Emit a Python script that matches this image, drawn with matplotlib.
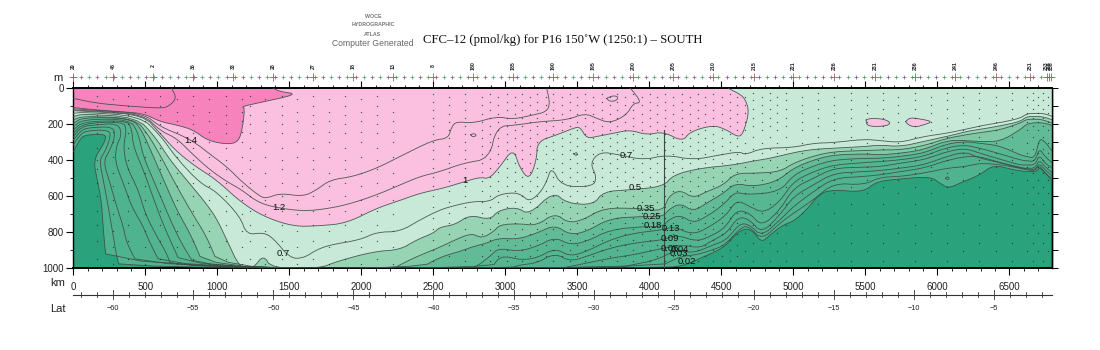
import matplotlib
matplotlib.use("Agg")
import matplotlib.pyplot as plt
from matplotlib.transforms import blended_transform_factory

W, H = 1100, 350
SANS = "Liberation Sans"
SERIF = "Liberation Serif"

# shared distances (km) for the eastern end of every deep contour
east_km = [5000, 5139, 5278, 5486, 5602, 5741, 5902, 6065, 6192, 6296, 6435, 6574, 6620, 6678, 6708, 6747, 6800]

c002_km = [0, 46, 81, 232, 215, 139, 167, 197, 208, 234,
           4108, 4259, 4352, 4514, 4595, 4664, 4722, 4780, 4838, 4930, 5000, 5092, 5185, 5278, 5486, 5578, 5717,
           5949, 6018, 6076, 6157, 6296, 6389, 6528, 6620, 6690, 6713, 6800]
c002_m = [352, 283, 259, 253, 305, 398, 509, 638, 786, 1000,
          1000, 980, 944, 888, 814, 777, 795, 857, 814, 758, 740, 675, 583, 564, 577, 518, 505,
          490, 527, 555, 527, 481, 425, 453, 463, 463, 435, 518]

c003_km = [0, 46, 93, 255, 255, 220, 181, 208, 243, 273, 301, 324,
           4051, 4213, 4328, 4444, 4525, 4641, 4699, 4780, 4907] + east_km
c003_m = [315, 259, 235, 231, 278, 352, 398, 509, 657, 805, 934, 1000,
          1000, 934, 925, 897, 870, 768, 771, 842, 749,
          694, 620, 527, 537, 494, 490, 472, 444, 435, 416, 424, 444, 453, 459, 426, 472, 503]

c004_km = [0, 58, 116, 278, 289, 255, 208, 255, 301, 347, 370, 463,
           3750, 3889, 4051, 4189, 4305, 4444, 4537, 4629, 4699, 4780, 4907] + east_km
c004_m = [287, 231, 218, 213, 268, 342, 407, 527, 657, 768, 860, 1000,
          1000, 980, 953, 897, 916, 870, 842, 749, 759, 823, 731,
          657, 574, 500, 490, 481, 463, 444, 401, 379, 379, 413, 438, 448, 453, 416, 453, 490]

c006_km = [0, 58, 139, 313, 336, 301, 289, 347, 405, 486, 532, 623,
           3379, 3449, 3564, 3726, 3889, 4097, 4236, 4352, 4444, 4537, 4618, 4699, 4780, 4907] + east_km
c006_m = [268, 213, 204, 194, 259, 315, 407, 527, 657, 768, 860, 1000,
          1000, 990, 971, 944, 925, 888, 870, 888, 842, 805, 712, 731, 805, 703,
          601, 537, 472, 463, 457, 444, 426, 379, 352, 389, 413, 444, 444, 444, 398, 435, 472]

c009_km = [0, 69, 347, 370, 347, 370, 451, 498, 579, 648, 685,
           3032, 3101, 3217, 3344, 3449, 3564, 3726, 3889, 4097, 4189, 4328, 4421, 4525, 4606, 4699, 4780, 4907] + east_km
c009_m = [250, 194, 185, 231, 324, 435, 564, 694, 823, 916, 1000,
          1000, 981, 971, 916, 962, 934, 888, 860, 842, 814, 851, 823, 777, 675, 694, 768, 675,
          555, 500, 444, 438, 435, 416, 398, 352, 333, 361, 394, 426, 426, 426, 370, 416, 444]

c013_km = [0, 69, 370, 405, 417, 486, 544, 602, 671, 762,
           2905, 2951, 3009, 3101, 3217, 3344, 3449, 3564, 3726, 3889, 4097, 4166, 4305, 4421, 4537, 4606, 4699, 4791, 4907] + east_km
c013_m = [231, 185, 179, 222, 324, 453, 583, 712, 842, 1000,
          1000, 944, 934, 953, 944, 888, 934, 906, 842, 805, 786, 768, 814, 768, 703, 620, 657, 694, 629,
          518, 463, 426, 413, 407, 398, 379, 329, 315, 333, 364, 398, 403, 407, 333, 379, 416]

c018_km = [0, 69, 394, 451, 486, 556, 625, 694, 764, 859,
           2750, 2800, 2893, 2951, 3090, 3217, 3344, 3449, 3564, 3726, 3958, 4097, 4132, 4213, 4305, 4398, 4514, 4595, 4676, 4907] + east_km
c018_m = [213, 172, 172, 250, 379, 509, 638, 768, 879, 1000,
          1000, 990, 934, 888, 906, 879, 827, 870, 851, 786, 768, 768, 731, 703, 749, 712, 648, 574, 592, 574,
          481, 431, 398, 389, 389, 379, 361, 309, 296, 305, 320, 370, 379, 389, 278, 296, 352]

c025_km = [0, 69, 405, 475, 556, 637, 718, 822, 914,
           2407, 2546, 2685, 2777, 2870, 2951, 3090, 3217, 3344, 3449, 3564, 3726, 3958, 4097, 4132, 4213, 4305, 4398, 4514, 4595, 4722, 4884] + east_km
c025_m = [194, 161, 167, 231, 379, 527, 675, 823, 1000,
          1000, 938, 906, 879, 860, 833, 838, 805, 759, 814, 796, 722, 712, 712, 675, 638, 684, 638, 583, 527, 546, 518,
          444, 398, 370, 364, 370, 361, 342, 290, 290, 296, 296, 231, 198, 191, 191, 194, 207]

c035_km = [0, 69, 428, 521, 602, 694, 810, 926, 1018,
           2222, 2268, 2384, 2546, 2650, 2766, 2835, 2916, 2963, 3101, 3217, 3344, 3437, 3541, 3680, 3912, 4097, 4132, 4213, 4305, 4398, 4514, 4595, 4745, 4907] + east_km
c035_m = [176, 154, 167, 259, 370, 509, 675, 823, 1000,
          1000, 981, 935, 883, 842, 805, 833, 798, 757, 752, 763, 693, 748, 731, 666, 666, 684, 601, 564, 610, 574, 537, 472, 472, 463,
          416, 376, 352, 346, 342, 342, 320, 278, 259, 246, 231, 194, 172, 172, 172, 179, 194]

c05_km = [0, 69, 440, 567, 671, 787, 903, 995, 1065, 1158, 1250, 1320, 1377, 1713, 1829, 2084, 2268,
          2384, 2500, 2546, 2650, 2754, 2893, 2951, 3078, 3166, 3333, 3426, 3611, 3680, 3865, 4097, 4166, 4352, 4583, 4699, 4838] + east_km
c05_m = [157, 142, 161, 268, 398, 509, 620, 722, 842, 1000, 1000, 925, 1000, 1000, 962, 907, 897,
         842, 805, 771, 758, 703, 731, 679, 660, 703, 574, 638, 648, 574, 564, 546, 481, 444, 426, 407, 389,
         357, 339, 333, 324, 315, 324, 296, 268, 241, 228, 209, 185, 157, 157, 157, 161, 176]

c07_km = [0, 69, 463, 602, 718, 880, 995, 1158, 1204, 1320, 1389, 1505, 1597, 1690, 1783, 1991, 2107, 2268,
          2407, 2546, 2662, 2777, 2893, 2951, 3055, 3113, 3166, 3240, 3287, 3321, 3391, 3611, 3634, 3588, 3657, 3796, 3958, 4120, 4305, 4490, 4629, 4664, 4780] + east_km
c07_m = [139, 133, 154, 259, 389, 527, 574, 712, 814, 801, 833, 944, 944, 897, 870, 842, 799, 796,
         731, 675, 648, 629, 629, 592, 579, 592, 629, 583, 518, 435, 546, 546, 490, 416, 352, 370, 398, 370, 398, 370, 352, 370, 333,
         329, 305, 302, 283, 290, 302, 268, 250, 228, 209, 191, 167, 142, 139, 139, 142, 157]

c10_km = [0, 139, 486, 602, 706, 833, 995, 1158, 1320, 1528, 1713, 1898, 2107, 2268,
          2407, 2569, 2719, 2824, 2888, 2963, 3055, 3101, 3166, 3217, 3222, 3356, 3472, 3518, 3564, 3634, 3750, 3865, 3981, 4097,
          4231, 4282, 4444, 4537, 4618, 4652, 4694, 4664, 4618, 4548]
c10_m = [124, 130, 148, 250, 342, 426, 509, 629, 712, 768, 764, 749, 666, 623,
         583, 555, 518, 494, 503, 435, 333, 444, 509, 398, 296, 259, 222, 213, 278, 268, 250, 231, 259, 241,
         296, 241, 204, 231, 272, 250, 130, 56, 28, 0]

c12_km = [0, 139, 486, 602, 718, 833, 949, 1065, 1169, 1273, 1389, 1574, 1713, 1898, 2107, 2268,
          2407, 2546, 2708, 2888, 2939, 3078, 3240, 3426, 3553, 3634, 3726, 3842, 3889, 3946, 3877, 3865]
c12_m = [120, 126, 144, 235, 278, 370, 453, 518, 564, 629, 660, 681, 675, 648, 592, 537,
         490, 463, 416, 392, 213, 204, 185, 176, 139, 167, 194, 148, 83, 80, 6, 0]

c14_km = [0, 139, 486, 602, 764, 868, 926, 1065, 1169, 1296, 1343, 1435, 1597, 1690, 1783, 1945, 2107, 2268,
          2500, 2604, 2627, 2662, 2777, 2939, 3055, 3194, 3287, 3310, 3287]
c14_m = [113, 122, 139, 213, 265, 315, 352, 435, 518, 601, 611, 583, 601, 564, 509, 490, 444, 379,
         287, 278, 213, 185, 194, 157, 172, 148, 130, 83, 0]

c16_km = [0, 162, 324, 486, 602, 718, 833, 926, 1042, 1134, 1169, 1192, 1169, 1273, 1563, 1435, 1389]
c16_m = [107, 120, 130, 139, 185, 204, 231, 287, 309, 305, 250, 111, 102, 83, 33, 18, 0]

inner_km = [0, 162, 370, 602, 660, 718, 683]
inner_m = [56, 83, 98, 111, 102, 56, 0]

island_a_km = [5505, 5532, 5625, 5678, 5648, 5556, 5509, 5505]
island_a_m = [176, 167, 170, 191, 209, 213, 204, 176]
island_b_km = [5780, 5810, 5880, 5968, 5903, 5845, 5799, 5780]
island_b_m = [185, 163, 170, 185, 204, 216, 204, 185]
loop_a_km = [3703, 3743, 3785, 3773, 3727, 3703]
loop_a_m = [56, 41, 46, 68, 74, 56]
loop_b_km = [2759, 2782, 2801, 2777, 2759]
loop_b_m = [259, 250, 261, 272, 259]
loop_c_km = [3474, 3500, 3495, 3474]
loop_c_m = [364, 355, 376, 364]
loop_d_km = [6056, 6070, 6084, 6070, 6056]
loop_d_m = [500, 490, 500, 510, 500]

gap_km = [4104, 4104]
gap_m = [231, 1000]

level_names = ["0.02", "0.03", "0.04", "0.06", "0.09", "0.13", "0.18", "0.25", "0.35", "0.5", "0.7", "1", "1.2", "1.4", "1.6"]
level_km = [c002_km, c003_km, c004_km, c006_km, c009_km, c013_km, c018_km, c025_km, c035_km, c05_km, c07_km, c10_km, c12_km, c14_km, c16_km]
level_m = [c002_m, c003_m, c004_m, c006_m, c009_m, c013_m, c018_m, c025_m, c035_m, c05_m, c07_m, c10_m, c12_m, c14_m, c16_m]
level_colors = ["#50B38F", "#50B38F", "#50B38F", "#52B490", "#54B591", "#58B793", "#62BB97", "#80C9A6", "#96D4B4",
                "#C8E9D8", "#C8E9D8", "#FBBFE0", "#FBBFE0", "#FBBFE0", "#F783BC"]
base_color = "#2AA27B"

label_texts = ["1.4", "1.2", "0.7", "1", "0.7", "0.5", "0.35", "0.25", "0.18", "0.13", "0.09", "0.06", "0.04", "0.03", "0.02"]
label_km = [815, 1431, 1458, 2720, 3842, 3900, 3977, 4016, 4023, 4148, 4143, 4139, 4213, 4203, 4264]
label_m = [292, 662, 919, 514, 376, 551, 670, 712, 764, 781, 832, 888, 897, 919, 962]

# sample positions
west_stations = [162, 278, 382, 498, 602, 718, 833, 942, 1058, 1169, 1227, 1331, 1447, 1556, 1667, 1778, 1887, 2000, 2107, 2222]
mid_stations = [2500, 2611, 2720, 2836, 2894, 2951, 3009, 3067, 3113, 3171, 3222, 3280, 3333, 3391, 3449, 3500, 3553, 3611, 3669, 3727,
                3773, 3831, 3889, 3946, 4005, 4051, 4109, 4166, 4224, 4282, 4340, 4386, 4444, 4502, 4560, 4611]
east_stations = [4664, 4722, 4780, 4838, 4889, 4947, 5058, 5169, 5285, 5398, 5509, 5620, 5729, 5845, 5956, 6070, 6181, 6292, 6405, 6516,
                 6625, 6662, 6697, 6736, 6771]
west_depths = [45, 100, 150, 200, 250, 330, 400, 450, 525, 600, 680, 760, 850, 950]
west_depths_alt = [60, 130, 180, 240, 300, 380, 470, 540, 620, 700, 790, 880, 975]
mid_depths = [30, 75, 120, 165, 210, 255, 300, 345, 390, 440, 490, 540, 600, 660, 720, 780, 840, 900, 960]
mid_depths_alt = [50, 95, 140, 185, 230, 275, 320, 365, 415, 465, 515, 570, 630, 690, 750, 810, 870, 930]
east_depths = [46, 92, 139, 185, 231, 305, 360, 435, 509, 583, 694, 805, 906]
east_depths_alt = [25, 65, 115, 165, 210, 270, 335, 400, 470, 550, 640, 760, 860, 960]

# axis furniture values
x_major = [0, 500, 1000, 1500, 2000, 2500, 3000, 3500, 4000, 4500, 5000, 5500, 6000, 6500]
y_major = [0, 200, 400, 600, 800, 1000]
station_labels = ["29", "45", "2", "36", "33", "28", "27", "18", "13", "8", "180", "185", "190", "195", "200", "205", "210", "215",
                  "221", "226", "231", "236", "241", "246", "251"]
station_label_km = [0, 278, 556, 833, 1111, 1389, 1667, 1944, 2222, 2500, 2778, 3056, 3333, 3611, 3889, 4167, 4444, 4729,
                    5000, 5285, 5569, 5847, 6125, 6410, 6646]
cluster_labels = ["253", "255", "258"]
cluster_km = [6760, 6778, 6792]
lat_major = [-60, -55, -50, -45, -40, -35, -30, -25, -20, -15, -10, -5]
lat_minor = [-62, -61, -59, -58, -57, -56, -54, -53, -52, -51, -49, -48, -47, -46, -44, -43, -42, -41, -39, -38, -37, -36,
             -34, -33, -32, -31, -29, -28, -27, -26, -24, -23, -22, -21, -19, -18, -17, -16, -14, -13, -12, -11, -9, -8, -7, -6,
             -4, -3, -2]


def chaikin(xs, ys, rounds=2):
    """Round the corners of a read-off polyline, keeping its two ends."""
    xs, ys = list(xs), list(ys)
    for _ in range(rounds):
        nx, ny = [xs[0]], [ys[0]]
        for i in range(len(xs) - 1):
            nx += [0.75 * xs[i] + 0.25 * xs[i + 1], 0.25 * xs[i] + 0.75 * xs[i + 1]]
            ny += [0.75 * ys[i] + 0.25 * ys[i + 1], 0.25 * ys[i] + 0.75 * ys[i + 1]]
        nx.append(xs[-1])
        ny.append(ys[-1])
        xs, ys = nx, ny
    return xs, ys


def ftext(px, py, s, **kw):
    return fig.text(px / W, 1 - py / H, s, **kw)


fig = plt.figure(figsize=(11, 3.5), dpi=100, facecolor="white")
L, R, T, B = 73.3, 1052.0, 88.3, 268.3
ax = fig.add_axes([L / W, 1 - B / H, (R - L) / W, (B - T) / H])
ax.set_xlim(0, 6796)
ax.set_ylim(1000, 0)
ax.set_facecolor(base_color)

# filled bands
for xs, ys, col in zip(level_km, level_m, level_colors):
    sx, sy = chaikin(xs, ys)
    ax.fill(sx + [sx[-1], 0], sy + [-20, -20], color=col, lw=0, zorder=1)
for (xs, ys) in [(island_a_km, island_a_m), (island_b_km, island_b_m)]:
    sx, sy = chaikin(xs, ys)
    ax.fill(sx, sy, color="#FBBFE0", lw=0, zorder=2)

# contour lines
LINE = "#3A4C45"
for xs, ys in list(zip(level_km, level_m)) + [(inner_km, inner_m)]:
    sx, sy = chaikin(xs, ys)
    ax.plot(sx, sy, color=LINE, lw=0.6, zorder=3, alpha=0.9)
for (xs, ys) in [(island_a_km, island_a_m), (island_b_km, island_b_m), (loop_a_km, loop_a_m),
                 (loop_b_km, loop_b_m), (loop_c_km, loop_c_m), (loop_d_km, loop_d_m)]:
    sx, sy = chaikin(xs, ys)
    ax.plot(sx, sy, color=LINE, lw=0.6, zorder=3, alpha=0.9)
ax.plot(gap_km, gap_m, color=LINE, lw=0.8, zorder=3)

# sample dots
for group, a, b in [(west_stations, west_depths, west_depths_alt),
                    (mid_stations, mid_depths, mid_depths_alt),
                    (east_stations, east_depths, east_depths_alt)]:
    for i, st in enumerate(group):
        d = a if i % 2 == 0 else b
        ax.scatter([st] * len(d), d, s=0.9, color="#25352F", linewidths=0, zorder=4, alpha=0.85)

# contour labels
for t, x, y in zip(label_texts, label_km, label_m):
    ax.text(x, y, t, fontsize=6.8, family=SANS, ha="center", va="center", color="#111111", zorder=5)

# frame and ticks
for s in ax.spines.values():
    s.set_linewidth(1.0)
ax.spines["top"].set_linewidth(1.4)
ax.spines["bottom"].set_linewidth(1.4)
ax.set_xticks(x_major)
ax.set_xticks(list(range(0, 6800, 100)), minor=True)
ax.set_yticks(y_major)
ax.set_yticks(list(range(0, 1001, 100)), minor=True)
ax.tick_params(axis="x", which="major", top=True, bottom=True, length=5, width=0.8, pad=5, labelsize=7, direction="out")
ax.tick_params(axis="x", which="minor", top=True, bottom=True, length=2.5, width=0.6, direction="out")
ax.tick_params(axis="y", which="major", left=True, length=5, width=0.8, pad=2, labelsize=7, direction="out")
ax.tick_params(axis="y", which="minor", left=True, length=2.5, width=0.6, direction="out")
for lab in ax.get_xticklabels() + ax.get_yticklabels():
    lab.set_family(SANS)
    lab.set_color("#222222")
right = ax.secondary_yaxis("right")
right.set_yticks(list(range(0, 1001, 100)))
right.set_yticklabels([])
right.tick_params(length=4.5, width=0.7)
right.spines["right"].set_linewidth(1.0)

# station row above the plot
tr = blended_transform_factory(ax.transData, ax.transAxes)
row_y = (B - 77) / (B - T)
lab_y = (B - 66) / (B - T)
small_km = [s for s in range(0, 6796, 56)]
ax.scatter(small_km[::2], [row_y] * len(small_km[::2]), marker="+", s=9, linewidths=0.5, color="#4E9A5C", transform=tr, clip_on=False)
ax.scatter(small_km[1::2], [row_y] * len(small_km[1::2]), marker="+", s=9, linewidths=0.5, color="#7B5A78", transform=tr, clip_on=False)
ax.scatter(station_label_km + cluster_km, [row_y] * (len(station_label_km) + len(cluster_km)), marker="+", s=30, linewidths=0.6,
           color="#A0605E", transform=tr, clip_on=False)
for t, x in zip(station_labels + cluster_labels, station_label_km + cluster_km):
    ax.text(x, lab_y, t, rotation=90, fontsize=3.8, family=SANS, fontweight="bold", ha="center", va="center", color="#222222",
            transform=tr, clip_on=False)

# latitude scale
lat_y = (B - 294.5) / (B - T)
ax.plot([0, 6796], [lat_y, lat_y], color="#333333", lw=0.8, transform=tr, clip_on=False)
for v in lat_major + lat_minor:
    k = (v + 60) * 111.2 + 277
    dy = 0.024 if v in lat_major else 0.016
    ax.plot([k, k], [lat_y - dy, lat_y + dy], color="#333333", lw=0.6, transform=tr, clip_on=False)
for v in lat_major:
    ax.text((v + 60) * 111.2 + 277, (B - 309) / (B - T), "\u2212%d" % abs(v), fontsize=5.2, family=SANS, ha="center", va="center",
            color="#222222", transform=tr, clip_on=False)

# side labels and header
ftext(58, 78, "m", fontsize=8, family=SANS, ha="center", va="center", color="#222222")
ftext(58, 283, "km", fontsize=8, family=SANS, ha="center", va="center", color="#222222")
ftext(58, 309, "Lat", fontsize=8, family=SANS, ha="center", va="center", color="#222222")
ftext(373, 17, "WOCE", fontsize=3.8, family=SANS, fontweight="bold", ha="center", va="center", color="#777777")
ftext(373, 25, "HYDROGRAPHIC", fontsize=3.8, family=SANS, fontweight="bold", ha="center", va="center", color="#777777")
ftext(373, 34, "ATLAS", fontsize=3.8, family=SANS, fontweight="bold", ha="center", va="center", color="#777777")
ftext(373, 43, "Computer Generated", fontsize=6.2, family=SANS, ha="center", va="center", color="#666666")
ftext(423, 39.5, "CFC\u201312 (pmol/kg) for P16 150\u02daW (1250:1) \u2013 SOUTH", fontsize=9.2, family=SERIF, ha="left", va="center", color="#111111")

fig.savefig("out.png", dpi=100, facecolor="white")
